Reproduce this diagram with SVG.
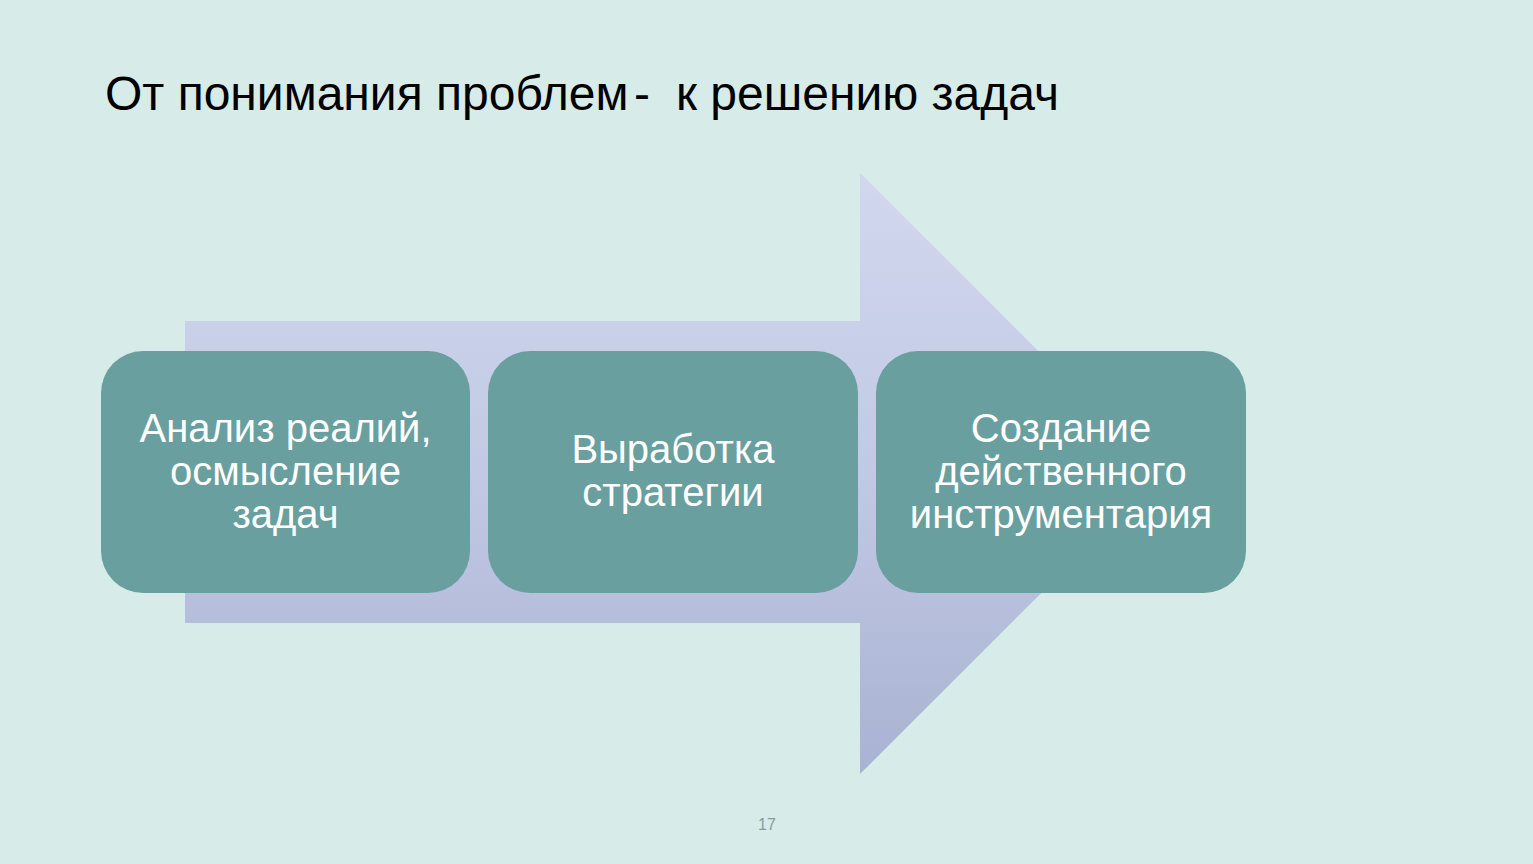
<svg xmlns="http://www.w3.org/2000/svg" width="1533" height="864" viewBox="0 0 1533 864">
<defs>
<linearGradient id="ag" x1="0" y1="0" x2="0" y2="1">
<stop offset="0" stop-color="#d1d7ee"/>
<stop offset="0.5" stop-color="#c2c9e4"/>
<stop offset="1" stop-color="#a8b2d2"/>
</linearGradient>
</defs>
<style>
.box{fill:#69a09f}
.lbl{font-family:"Liberation Sans",Arial,sans-serif;font-size:40px;fill:#ffffff;text-anchor:middle}
</style>
<rect width="1533" height="864" fill="#d7ece9"/>
<text x="105" y="110" font-family="Liberation Sans, Arial, sans-serif" font-size="48" fill="#000"><tspan x="105">От понимания проблем</tspan><tspan x="634">-</tspan><tspan x="676">к решению задач</tspan></text>
<g id="arrow">
<polygon points="185,321 860,321 860,173 1161,473.5 860,774 860,623 185,623" fill="url(#ag)"/>
</g>
<g id="connectors"></g>
<g id="node1">
<rect class="box" x="101" y="351" width="369" height="242" rx="42"/>
<text class="lbl" x="285.5" y="442">Анализ реалий,</text>
<text class="lbl" x="285.5" y="485">осмысление</text>
<text class="lbl" x="285.5" y="528">задач</text>
</g>
<g id="node2">
<rect class="box" x="488" y="351" width="370" height="242" rx="42"/>
<text class="lbl" x="673" y="463">Выработка</text>
<text class="lbl" x="673" y="506">стратегии</text>
</g>
<g id="node3">
<rect class="box" x="876" y="351" width="370" height="242" rx="42"/>
<text class="lbl" x="1061" y="442">Создание</text>
<text class="lbl" x="1061" y="485">действенного</text>
<text class="lbl" x="1061" y="528">инструментария</text>
</g>
<text x="767" y="830" font-family="Liberation Sans, Arial, sans-serif" font-size="16" fill="#8c9a98" text-anchor="middle">17</text>
</svg>
